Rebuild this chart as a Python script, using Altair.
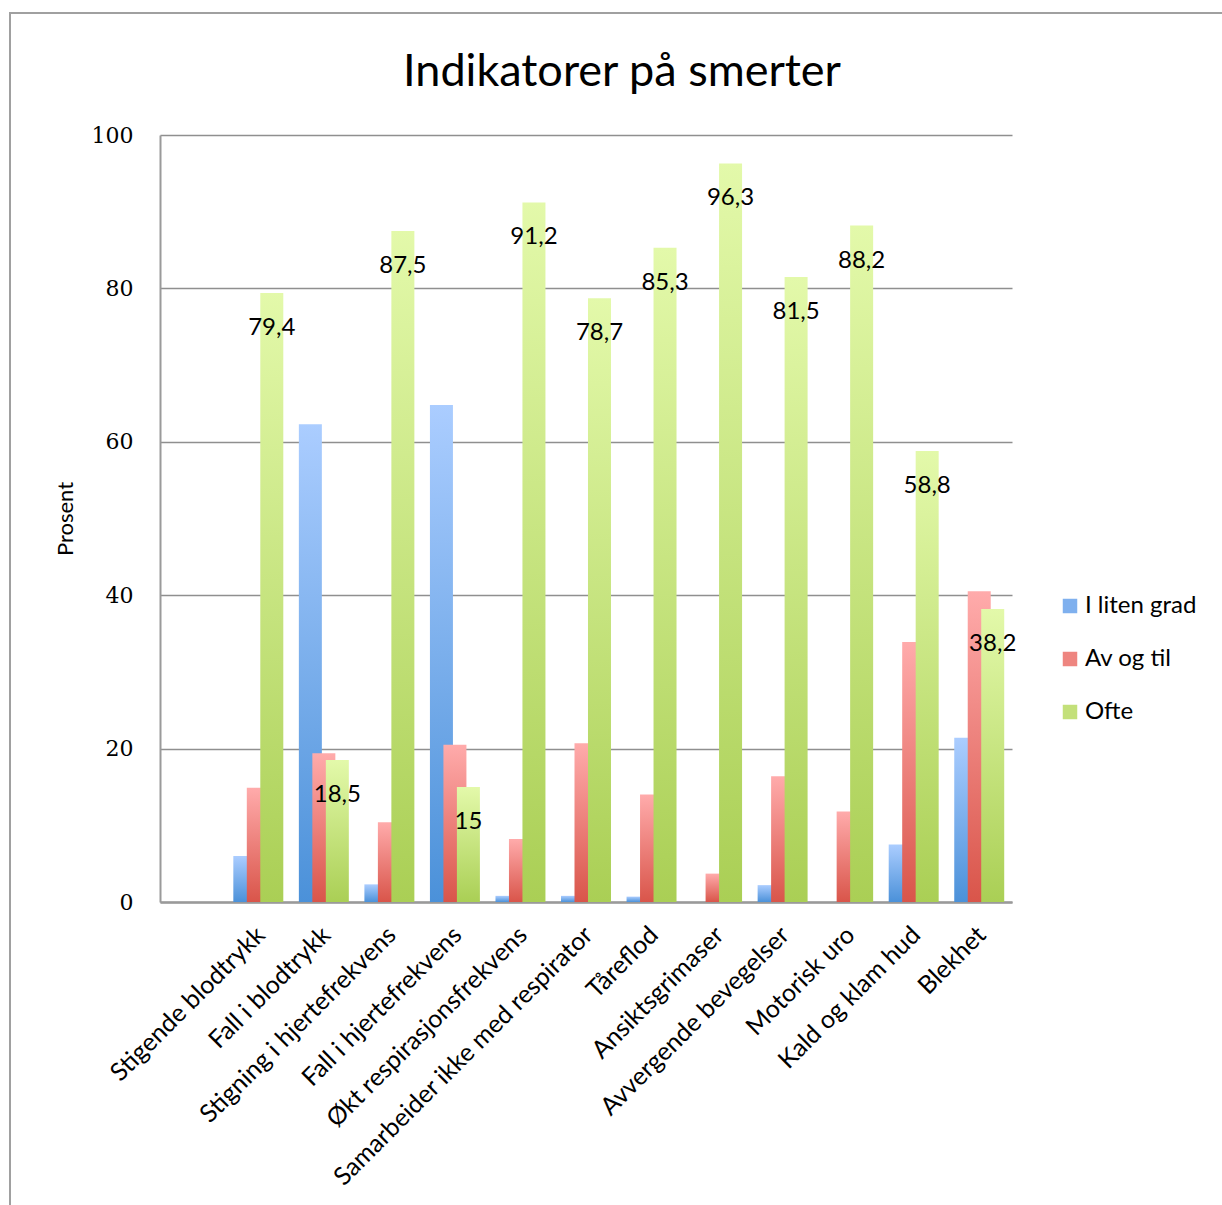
import altair as alt
import pandas as pd

categories = [
    "Stigende blodtrykk", "Fall i blodtrykk", "Stigning i hjertefrekvens",
    "Fall i hjertefrekvens", "Økt respirasjonsfrekvens",
    "Samarbeider ikke med respirator", "Tåreflod", "Ansiktsgrimaser",
    "Avvergende bevegelser", "Motorisk uro", "Kald og klam hud", "Blekhet",
]
series = ["I liten grad", "Av og til", "Ofte"]
i_liten_grad = [6.0, 62.3, 2.3, 64.8, 0.8, 0.8, 0.7, 0.0, 2.2, 0.0, 7.5, 21.4]
av_og_til = [14.9, 19.4, 10.4, 20.5, 8.2, 20.7, 14.0, 3.7, 16.4, 11.8, 33.9, 40.5]
ofte = [79.4, 18.5, 87.5, 15.0, 91.2, 78.7, 85.3, 96.3, 81.5, 88.2, 58.8, 38.2]
title_text = "Indikatorer på smerter"

rows = []
for s, vals in zip(series, [i_liten_grad, av_og_til, ofte]):
    for c, v in zip(categories, vals):
        rows.append({"kategori": c, "serie": s, "verdi": v})
df = pd.DataFrame(rows)

x_domain = [""] + categories
flat_colors = ["#7fb0ee", "#ee8580", "#c3e07a"]
gradients = {
    "I liten grad": ("#abcdff", "#4b91d9"),
    "Av og til": ("#ffabab", "#d9554a"),
    "Ofte": ("#e3f9aa", "#aacf55"),
}

FONT = "Lato"

x_enc = alt.X(
    "kategori:N",
    scale=alt.Scale(domain=x_domain, paddingInner=0, paddingOuter=0),
    sort=x_domain,
    axis=alt.Axis(
        title=None, labelAngle=-45, labelFont=FONT, labelFontSize=25,
        labelColor="black", ticks=False, grid=False, domainColor="#9a9a9a",
        domainWidth=2.5, labelPadding=20, labelOffset=-6, labelLimit=500,
    ),
)
y_enc = alt.Y(
    "verdi:Q",
    scale=alt.Scale(domain=[0, 100]),
    axis=alt.Axis(
        title="Prosent", values=[0, 20, 40, 60, 80, 100], titleFont=FONT,
        titleFontSize=22, titleFontWeight="normal", titleColor="black",
        titlePadding=14, labelFont="DejaVu Serif", labelFontSize=22,
        labelColor="black", ticks=False, labelPadding=27,
        domainColor="#9a9a9a", domainWidth=2, gridColor="#8f8f8f",
        gridWidth=1.5,
    ),
)
xoff = alt.XOffset(
    "serie:N",
    scale=alt.Scale(domain=series, paddingInner=0, paddingOuter=0.93),
)

base = alt.Chart(df)

layers = []
frame = alt.Chart(alt.Data(values=[{"a": 1}])).mark_rect(
    fill="transparent", stroke="#a0a0a0", strokeWidth=2
).encode(
    x=alt.value(-150), x2=alt.value(1300), y=alt.value(-122), y2=alt.value(1300)
)
layers.append(frame)

title_layer = alt.Chart(alt.Data(values=[{"t": title_text}])).mark_text(
    font=FONT, fontSize=45, color="black", align="center", baseline="middle"
).encode(x=alt.value(462), y=alt.value(-63), text="t:N")
layers.append(title_layer)

for s in series:
    top, bottom = gradients[s]
    grad = alt.Gradient(
        gradient="linear",
        stops=[alt.GradientStop(color=top, offset=0),
               alt.GradientStop(color=bottom, offset=1)],
        x1=0, x2=0, y1=0, y2=1,
    )
    layers.append(
        base.transform_filter(alt.datum.serie == s)
        .mark_bar(width=23, fill=grad, strokeWidth=0)
        .encode(x=x_enc, y=y_enc, xOffset=xoff)
    )

legend_layer = base.transform_filter("false").mark_bar().encode(
    x=x_enc, y=y_enc,
    color=alt.Color(
        "serie:N",
        scale=alt.Scale(domain=series, range=flat_colors),
        legend=alt.Legend(
            title=None, orient="none", legendX=898, legendY=459,
            labelFont=FONT, labelFontSize=24, labelColor="black",
            symbolType="square", symbolSize=210, symbolStrokeWidth=0,
            rowPadding=29, labelOffset=3, symbolOpacity=1,
        ),
    ),
)
layers.append(legend_layer)

labels = base.transform_filter(alt.datum.serie == "Ofte").transform_calculate(
    etikett="replace(toString(datum.verdi), '.', ',')"
).mark_text(
    font=FONT, fontSize=24, color="black", baseline="middle", dy=35
).encode(x=x_enc, y=y_enc, xOffset=xoff, text="etikett:N")
layers.append(labels)

chart = alt.layer(*layers).properties(
    width=852, height=767,
    background="white",
    autosize=alt.AutoSizeParams(type="none"),
    padding={"left": 160, "top": 135, "right": 210, "bottom": 303},
).configure_view(strokeWidth=0, stroke="transparent")

chart.save("out.html", embed_options={"renderer": "svg", "actions": False})
